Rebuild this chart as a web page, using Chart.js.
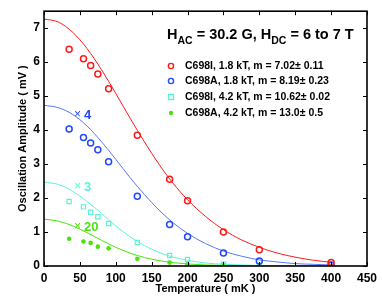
<!DOCTYPE html>
<html>
<head>
<meta charset="utf-8">
<script src="https://cdn.jsdelivr.net/npm/chart.js@4.4.1/dist/chart.umd.min.js"></script>
<style>
  html, body { margin: 0; padding: 0; background: #fff; }
  #wrap { width: 382px; height: 296px; }
</style>
</head>
<body>
<div id="wrap"><canvas id="c" width="382" height="296"></canvas></div>
<script>
// temperaturas medidas (mK)
const temps = [35, 55, 65, 75, 90, 130, 175, 200, 250, 300, 400];

// amplitudes medidas (mV), já escaladas como no gráfico
const c698i18 = [6.38, 6.1, 5.9, 5.65, 5.22, 3.85, 2.55, 1.92, 1.0, 0.48, 0.1];
const c698a18 = [4.03, 3.78, 3.62, 3.42, 3.07, 2.05, 1.22, 0.86, 0.38, 0.15, 0.03];
const c698i42 = [1.9, 1.74, 1.58, 1.45, 1.25, 0.69, 0.31, 0.19, 0.05, 0.02, 0.01];
const c698a42 = [0.8, 0.72, 0.68, 0.57, 0.52, 0.21, 0.1, 0.05, 0.02, 0.01, 0.01];

// curvas de ajuste
const fitTemps = [0, 20, 40, 60, 80, 100, 120, 140, 160, 180, 200, 225, 250, 275, 300, 325, 350, 375, 400];
const fitI18 = [7.27, 7.18, 6.88, 6.4, 5.78, 5.08, 4.35, 3.65, 3.0, 2.43, 1.95, 1.46, 1.07, 0.77, 0.55, 0.38, 0.26, 0.17, 0.11];
const fitA18 = [4.73, 4.66, 4.46, 4.12, 3.66, 3.14, 2.6, 2.1, 1.65, 1.27, 0.96, 0.66, 0.44, 0.29, 0.18, 0.12, 0.07, 0.05, 0.03];
const fitI42 = [2.47, 2.4, 2.2, 1.9, 1.55, 1.18, 0.86, 0.6, 0.4, 0.26, 0.17, 0.09, 0.05, 0.03, 0.015, 0.01, 0.005, 0.0, 0.0];
const fitA42 = [1.38, 1.32, 1.18, 0.98, 0.76, 0.55, 0.38, 0.25, 0.16, 0.1, 0.06, 0.03, 0.02, 0.01, 0.005, 0.0, 0.0, 0.0, 0.0];

const legendLabels = [
  "C698I, 1.8 kT, m = 7.02\u00b1 0.11",
  "C698A, 1.8 kT, m = 8.19\u00b1 0.23",
  "C698I, 4.2 kT, m = 10.62\u00b1 0.02",
  "C698A, 4.2 kT, m = 13.0\u00b1 0.5"
];
const scaleNotes = ["\u00d7", "4", "3", "20"];

const xTicks = [0, 50, 100, 150, 200, 250, 300, 350, 400, 450];
const yTicks = [0, 1, 2, 3, 4, 5, 6, 7];

const RED = "#ff1a1a", BLUE = "#2448ff", CYAN = "#5cf2d6", GREEN = "#4ee010";
const FONT = "'Liberation Sans', Arial, Helvetica, sans-serif";

const pts = (xs, ys) => xs.map((x, i) => ({ x, y: ys[i] }));

function fitSet(ys, color) {
  return {
    data: pts(fitTemps, ys),
    showLine: true,
    borderColor: color,
    borderWidth: 1,
    pointRadius: 0,
    cubicInterpolationMode: "monotone",
    fill: false,
    order: 2,
  };
}

const markerSets = [
  { data: pts(temps, c698i18), borderColor: RED, backgroundColor: "rgba(0,0,0,0)", pointStyle: "circle", pointRadius: 3, borderWidth: 1.5 },
  { data: pts(temps, c698a18), borderColor: BLUE, backgroundColor: "rgba(0,0,0,0)", pointStyle: "circle", pointRadius: 3, borderWidth: 1.5 },
  { data: pts(temps, c698i42), borderColor: CYAN, backgroundColor: "rgba(0,0,0,0)", pointStyle: "rect", pointRadius: 3, borderWidth: 1.2 },
  { data: pts(temps, c698a42), borderColor: GREEN, backgroundColor: GREEN, pointStyle: "circle", pointRadius: 2.3, borderWidth: 0 },
].map(d => ({ ...d, showLine: false, order: 1 }));

// moldura com ticks para dentro, título, legenda e anotações
const decor = {
  id: "decor",
  afterDatasetsDraw(chart) {
    const { ctx, chartArea: a, scales } = chart;
    const xs = scales.x, ys = scales.y;
    ctx.save();
    ctx.strokeStyle = "#000";
    ctx.lineWidth = 1;
    ctx.beginPath();
    xTicks.forEach(v => {
      const px = Math.round(xs.getPixelForValue(v)) + 0.5;
      ctx.moveTo(px, a.bottom); ctx.lineTo(px, a.bottom - 4);
      ctx.moveTo(px, a.top); ctx.lineTo(px, a.top + 4);
    });
    yTicks.forEach(v => {
      const py = Math.round(ys.getPixelForValue(v)) + 0.5;
      ctx.moveTo(a.left, py); ctx.lineTo(a.left + 4, py);
      ctx.moveTo(a.right, py); ctx.lineTo(a.right - 4, py);
    });
    ctx.stroke();
    ctx.lineWidth = 1.6;
    ctx.strokeRect(a.left, a.top, a.right - a.left, a.bottom - a.top);

    // título
    ctx.fillStyle = "#000";
    ctx.textBaseline = "alphabetic";
    ctx.textAlign = "left";
    let x = 167;
    const base = 39;
    const seg = (t, size, dy) => {
      ctx.font = "bold " + size + "px " + FONT;
      ctx.fillText(t, x, base + dy);
      x += ctx.measureText(t).width;
    };
    seg("H", 14.5, 0); seg("AC", 10.5, 5); seg(" = 30.2 G, H", 14.5, 0); seg("DC", 10.5, 5); seg(" = 6 to 7 T", 14.5, 0);

    // legenda
    const rows = [66, 81, 97, 113];
    ctx.font = "bold 10.5px " + FONT;
    ctx.textBaseline = "middle";
    markerSets.forEach((d, i) => {
      const cy = rows[i], cx = 171;
      ctx.strokeStyle = d.borderColor;
      ctx.fillStyle = d.backgroundColor;
      ctx.lineWidth = 1.4;
      if (d.pointStyle === "rect") {
        ctx.strokeRect(cx - 2.5, cy - 2.5, 5, 5);
      } else if (d.borderWidth === 0) {
        ctx.beginPath(); ctx.arc(cx, cy, 2.2, 0, Math.PI * 2); ctx.fill();
      } else {
        ctx.beginPath(); ctx.arc(cx, cy, 2.6, 0, Math.PI * 2); ctx.stroke();
      }
      ctx.fillStyle = "#000";
      ctx.fillText(legendLabels[i], 185, cy + 0.5);
    });

    // anotações de escala
    const notes = [[BLUE, scaleNotes[1], 115], [CYAN, scaleNotes[2], 187], [GREEN, scaleNotes[3], 227]];
    notes.forEach(([c, t, y]) => {
      ctx.fillStyle = c;
      ctx.font = "12px " + FONT;
      ctx.fillText(scaleNotes[0], 74, y);
      ctx.font = "bold 13px " + FONT;
      ctx.fillText(t, 84, y);
    });
    ctx.restore();
  }
};

new Chart(document.getElementById("c"), {
  type: "scatter",
  data: {
    datasets: [
      fitSet(fitI18, RED), fitSet(fitA18, "#5577ff"), fitSet(fitI42, CYAN), fitSet(fitA42, GREEN),
      ...markerSets,
    ],
  },
  options: {
    responsive: false,
    animation: false,
    layout: { padding: { left: 16, right: 14, top: 9, bottom: 0 } },
    plugins: { legend: { display: false }, tooltip: { enabled: false } },
    scales: {
      x: {
        type: "linear", min: 0, max: 450,
        afterBuildTicks: s => { s.ticks = xTicks.map(v => ({ value: v })); },
        afterFit: s => { s.height = 30; },
        grid: { display: false, drawTicks: false },
        border: { display: false },
        ticks: { padding: 5, color: "#000", font: { family: FONT, size: 12, weight: "bold" }, maxRotation: 0 },
        title: { display: true, text: "Temperature ( mK )", color: "#000", padding: { top: 0, bottom: 0 }, font: { family: FONT, size: 11, weight: "bold" } },
      },
      y: {
        type: "linear", min: 0, max: 7.5,
        afterBuildTicks: s => { s.ticks = yTicks.map(v => ({ value: v })); },
        afterFit: s => { s.width = 28; },
        grid: { display: false, drawTicks: false },
        border: { display: false },
        ticks: { padding: 4, color: "#000", font: { family: FONT, size: 12, weight: "bold" } },
        title: { display: true, text: "Oscillation Amplitude ( mV )", color: "#000", padding: { top: 0, bottom: 0 }, font: { family: FONT, size: 11, weight: "bold" } },
      },
    },
  },
  plugins: [decor],
});
</script>
</body>
</html>
